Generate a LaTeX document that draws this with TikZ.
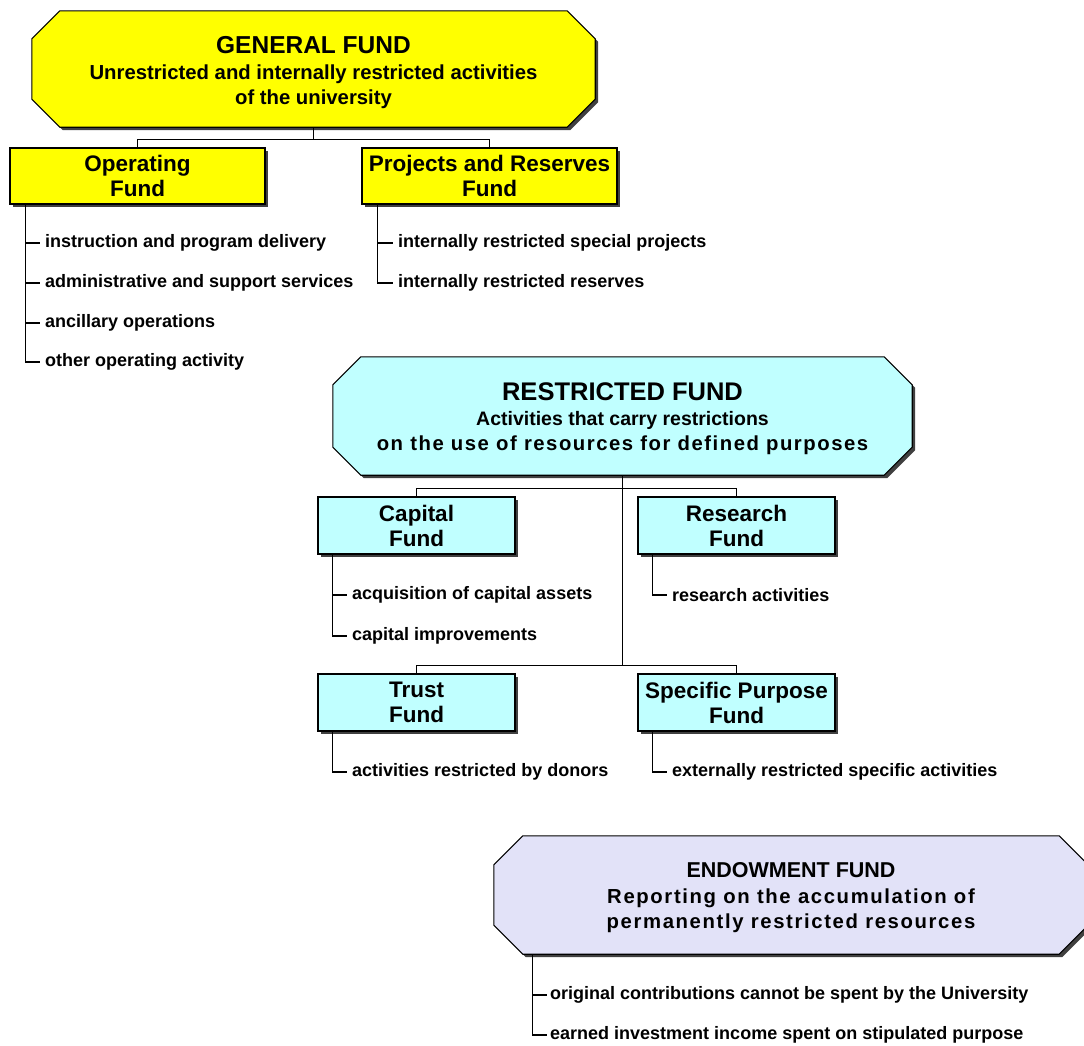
\documentclass[tikz,border=0pt]{standalone}
\usepackage{fontspec}
\setmainfont{Liberation Sans}
\usetikzlibrary{shadows,backgrounds,calc}
\definecolor{genc}{HTML}{FFFF00}
\definecolor{resc}{HTML}{C0FFFF}
\definecolor{endc}{HTML}{E2E2F8}
\definecolor{shc}{HTML}{404040}
\newcommand\octdraw[3]{%
  \fill[shc] let \p1=(#1.north west), \p2=(#1.south east) in
    (\x1+#2+3pt,\y1-3pt) -- (\x2-#2+3pt,\y1-3pt) -- (\x2+3pt,\y1-#2-3pt) -- (\x2+3pt,\y2+#2-3pt) --
    (\x2-#2+3pt,\y2-3pt) -- (\x1+#2+3pt,\y2-3pt) -- (\x1+3pt,\y2+#2-3pt) -- (\x1+3pt,\y1-#2-3pt) -- cycle;
  \draw[fill=#3, line width=1.1pt] let \p1=(#1.north west), \p2=(#1.south east) in
    (\x1+#2,\y1) -- (\x2-#2,\y1) -- (\x2,\y1-#2) -- (\x2,\y2+#2) --
    (\x2-#2,\y2) -- (\x1+#2,\y2) -- (\x1,\y2+#2) -- (\x1,\y1-#2) -- cycle;
}
\newcommand\lsp[1]{\addfontfeatures{LetterSpace=#1}}
\tikzset{
  frame/.style={inner sep=0pt},
  octf/.style={inner sep=0pt, align=center, font=\fontsize{20.3}{24.5}\selectfont\bfseries},
  box/.style={draw, line width=1.1pt, minimum width=197pt, minimum height=57pt, inner sep=0pt,
    align=center, font=\fontsize{22.5}{25}\selectfont\bfseries,
    drop shadow={shadow xshift=2.5pt, shadow yshift=-2.5pt, opacity=1, fill=shc}},
  item/.style={anchor=west, inner xsep=5pt, inner ysep=0pt, font=\fontsize{18}{20}\selectfont\bfseries},
  conn/.style={line width=1.1pt},
}
\begin{document}
\begin{tikzpicture}[x=1pt,y=-1pt]
\useasboundingbox (0,0) rectangle (1084,1045);
% ---------------- GENERAL FUND
\node[frame, minimum width=563pt, minimum height=116pt] (genf) at (313.5,69) {};
\node[octf] (gen) at (313.5,72.5)
  {{\fontsize{24.5}{24.5}\selectfont GENERAL FUND}\\[2pt]
   Unrestricted and internally restricted activities\\
   of the university};
\begin{pgfonlayer}{background}\octdraw{genf}{28pt}{genc}\end{pgfonlayer}
\node[box, fill=genc, minimum width=255pt, minimum height=56pt] (op) at (137.5,176) {Operating\\Fund};
\node[box, fill=genc, minimum width=255pt, minimum height=56pt] (pr) at (489.5,176) {Projects and Reserves\\Fund};
\draw[conn] (genf.south) -- ++(0,13);
\draw[conn] (op.north) -- ++(0,-8) -| (pr.north);
% items
\node[item] (o1) at (40,243) {instruction and program delivery};
\node[item] (o2) at (40,283) {administrative and support services};
\node[item] (o3) at (40,323) {ancillary operations};
\node[item] (o4) at (40,362) {other operating activity};
\coordinate (ot) at ([xshift=16pt]op.south west);
\draw[conn] (ot) |- (o4.west);
\foreach \n in {o1,o2,o3} \draw[conn] (ot |- \n.west) -- (\n.west);
\node[item] (p1) at (393,243) {internally restricted special projects};
\node[item] (p2) at (393,283) {internally restricted reserves};
\coordinate (pt) at ([xshift=16pt]pr.south west);
\draw[conn] (pt) |- (p2.west);
\draw[conn] (pt |- p1.west) -- (p1.west);
% ---------------- RESTRICTED FUND
\node[frame, minimum width=579pt, minimum height=118pt] (resf) at (622.5,416) {};
\node[octf] (res) at (622.5,418.5)
  {{\fontsize{25.5}{25.5}\selectfont RESTRICTED FUND}\\[1pt]
   {\fontsize{19.5}{24.5}\selectfont Activities that carry restrictions}\\
   {\lsp{7.5}on the use of resources for defined purposes}};
\begin{pgfonlayer}{background}\octdraw{resf}{28pt}{resc}\end{pgfonlayer}
\node[box, fill=resc] (cap) at (416.5,525.5) {Capital\\Fund};
\node[box, fill=resc] (rsf) at (736.5,525.5) {Research\\Fund};
\node[box, fill=resc] (tru) at (416.5,702.5) {Trust\\Fund};
\node[box, fill=resc] (spf) at (736.5,702.5) {Specific Purpose\\Fund};
\draw[conn] (resf.south) -- (resf.south |- 0,666);
\draw[conn] (cap.north) -- ++(0,-8) -| (rsf.north);
\draw[conn] (tru.north) -- ++(0,-8) -| (spf.north);
\node[item] (c1) at (347,595) {acquisition of capital assets};
\node[item] (c2) at (347,636) {capital improvements};
\coordinate (ct) at ([xshift=15pt]cap.south west);
\draw[conn] (ct) |- (c2.west);
\draw[conn] (ct |- c1.west) -- (c1.west);
\node[item] (r1) at (667,595) {research activities};
\draw[conn] ([xshift=15pt]rsf.south west) |- (r1.west);
\node[item] (t1) at (347,772) {activities restricted by donors};
\draw[conn] ([xshift=15pt]tru.south west) |- (t1.west);
\node[item] (s1) at (667,772) {externally restricted specific activities};
\draw[conn] ([xshift=15pt]spf.south west) |- (s1.west);
% ---------------- ENDOWMENT FUND
\node[frame, minimum width=594pt, minimum height=118pt] (endf) at (791,895) {};
\node[octf] (end) at (791,897.5)
  {{\fontsize{21.5}{21.5}\selectfont ENDOWMENT FUND}\\[2pt]
   {\lsp{8}Reporting on the accumulation of}\\
   {\lsp{8}permanently restricted resources}};
\begin{pgfonlayer}{background}\octdraw{endf}{29pt}{endc}\end{pgfonlayer}
\node[item, inner xsep=3pt] (e1) at (547,995) {original contributions cannot be spent by the University};
\node[item, inner xsep=3pt] (e2) at (547,1035) {earned investment income spent on stipulated purpose};
\coordinate (et) at ([xshift=39pt]endf.south west);
\draw[conn] (et) |- (e2.west);
\draw[conn] (et |- e1.west) -- (e1.west);
\end{tikzpicture}
\end{document}
